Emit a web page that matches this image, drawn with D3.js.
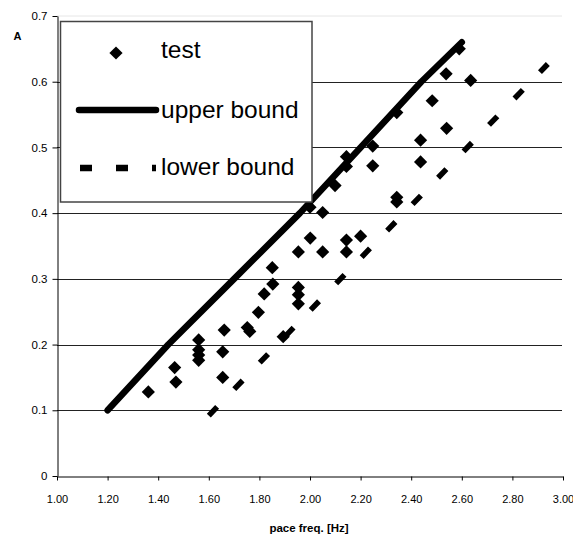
<!DOCTYPE html>
<html>
<head>
<meta charset="utf-8">
<script src="https://cdn.jsdelivr.net/npm/d3@7"></script>
<style>
  html, body { margin: 0; padding: 0; background: #fff; }
  svg { display: block; font-family: "Liberation Sans", Arial, sans-serif; }
</style>
</head>
<body>
<svg id="chart" width="573" height="537"></svg>
<script>
// ---- data ----
const testX = [1.361,1.465,1.470,1.560,1.560,1.560,1.560,1.655,1.655,1.661,1.752,1.762,1.796,1.819,1.853,1.851,1.894,1.954,1.954,1.954,1.954,2.000,2.001,2.050,2.050,2.099,2.144,2.144,2.144,2.144,2.200,2.248,2.248,2.343,2.343,2.343,2.437,2.437,2.483,2.538,2.540,2.590,2.635];
const testY = [0.128,0.165,0.143,0.207,0.192,0.184,0.176,0.150,0.189,0.222,0.226,0.220,0.249,0.277,0.292,0.317,0.212,0.341,0.287,0.276,0.262,0.409,0.362,0.401,0.341,0.442,0.486,0.471,0.359,0.341,0.365,0.502,0.472,0.553,0.424,0.417,0.511,0.478,0.571,0.612,0.529,0.650,0.602];
const upperX = [1.20,1.44,1.70,1.96,2.20,2.44,2.60];
const upperY = [0.10,0.20,0.30,0.40,0.50,0.60,0.66];
const lowerX = [1.60,2.94];
const lowerY = [0.092,0.627];
const xTicks = [1.0,1.2,1.4,1.6,1.8,2.0,2.2,2.4,2.6,2.8,3.0];
const yTicks = [0,0.1,0.2,0.3,0.4,0.5,0.6,0.7];
const legendLabels = ["test","upper bound","lower bound"];
const xTitle = "pace freq. [Hz]";
const yTitle = "A";

const svg = d3.select("#chart");
const x = d3.scaleLinear().domain([1,3]).range([57,563]);
const y = d3.scaleLinear().domain([0,0.7]).range([476,16]);

// top border (light)
svg.append("line").attr("x1",x(1)).attr("x2",x(3)-1).attr("y1",y(0.7)).attr("y2",y(0.7))
  .attr("stroke","#e6e6e6").attr("stroke-width",1);

// gridlines
svg.append("g").selectAll("line").data(yTicks.filter(d=>d>0 && d<0.7)).join("line")
  .attr("x1",x(1)).attr("x2",x(3)-1)
  .attr("y1",d=>Math.round(y(d))+0.5).attr("y2",d=>Math.round(y(d))+0.5)
  .attr("stroke","#222").attr("stroke-width",1);

// axes
const xAxis = d3.axisBottom(x).tickValues(xTicks).tickFormat(d3.format(".2f")).tickSize(4).tickSizeOuter(0);
const gx = svg.append("g").attr("transform",`translate(0,${Math.round(y(0))+0.5})`).call(xAxis);
gx.select(".domain").attr("stroke","#000");
gx.selectAll(".tick line").attr("stroke","#000");
gx.selectAll("text").attr("font-size","11px").attr("fill","#000").attr("dy","0").attr("y",26)
  .attr("font-family","'Liberation Sans', Arial, sans-serif");

const yAxis = d3.axisLeft(y).tickValues(yTicks).tickFormat(d=>d===0?"0":d3.format(".1f")(d)).tickSize(5).tickSizeOuter(0);
const gy = svg.append("g").attr("transform",`translate(${Math.round(x(1))+0.5},0)`).call(yAxis);
gy.select(".domain").attr("stroke","#000");
gy.selectAll(".tick line").attr("stroke","#000");
gy.selectAll("text").attr("font-size","11.5px").attr("fill","#000").attr("x",-10)
  .attr("font-family","'Liberation Sans', Arial, sans-serif");

// axis titles
svg.append("text").attr("x",309).attr("y",532).attr("text-anchor","middle")
  .attr("font-size","11.5px").attr("font-weight","bold").text(xTitle);
svg.append("text").attr("x",17.5).attr("y",40).attr("text-anchor","middle")
  .attr("font-size","11px").attr("font-weight","bold").text(yTitle);

// lines
const line = d3.line().x(d=>x(d[0])).y(d=>y(d[1]));
svg.append("path").datum(lowerX.map((v,i)=>[v,lowerY[i]])).attr("d",line)
  .attr("fill","none").attr("stroke","#000").attr("stroke-width",5.5)
  .attr("stroke-dasharray","12,24.7");
svg.append("path").datum(upperX.map((v,i)=>[v,upperY[i]])).attr("d",line)
  .attr("fill","none").attr("stroke","#000").attr("stroke-width",6.5)
  .attr("stroke-linecap","round").attr("stroke-linejoin","round");

// diamonds
const r = 6.6;
const diamond = `M0,${-r}L${r},0L0,${r}L${-r},0Z`;
svg.append("g").selectAll("path").data(testX.map((v,i)=>[v,testY[i]])).join("path")
  .attr("d",diamond).attr("transform",d=>`translate(${x(d[0])},${y(d[1])})`)
  .attr("fill","#000");

// legend
const lg = svg.append("g");
lg.append("rect").attr("x",60.5).attr("y",21.5).attr("width",251.5).attr("height",180.5)
  .attr("fill","#fff").attr("stroke","#444").attr("stroke-width",1.5);
lg.append("path").attr("d",diamond).attr("transform","translate(116,53)").attr("fill","#000");
lg.append("line").attr("x1",79).attr("x2",156).attr("y1",110).attr("y2",110)
  .attr("stroke","#000").attr("stroke-width",6.5).attr("stroke-linecap","round");
lg.append("line").attr("x1",80).attr("x2",156).attr("y1",168).attr("y2",168)
  .attr("stroke","#000").attr("stroke-width",6.5).attr("stroke-dasharray","12,24");
const lgY = [58,118,175];
lg.selectAll("text.lbl").data(legendLabels).join("text").attr("class","lbl")
  .attr("x",161).attr("y",(d,i)=>lgY[i]).attr("font-size","24.5px").attr("fill","#000").text(d=>d);
</script>
</body>
</html>
